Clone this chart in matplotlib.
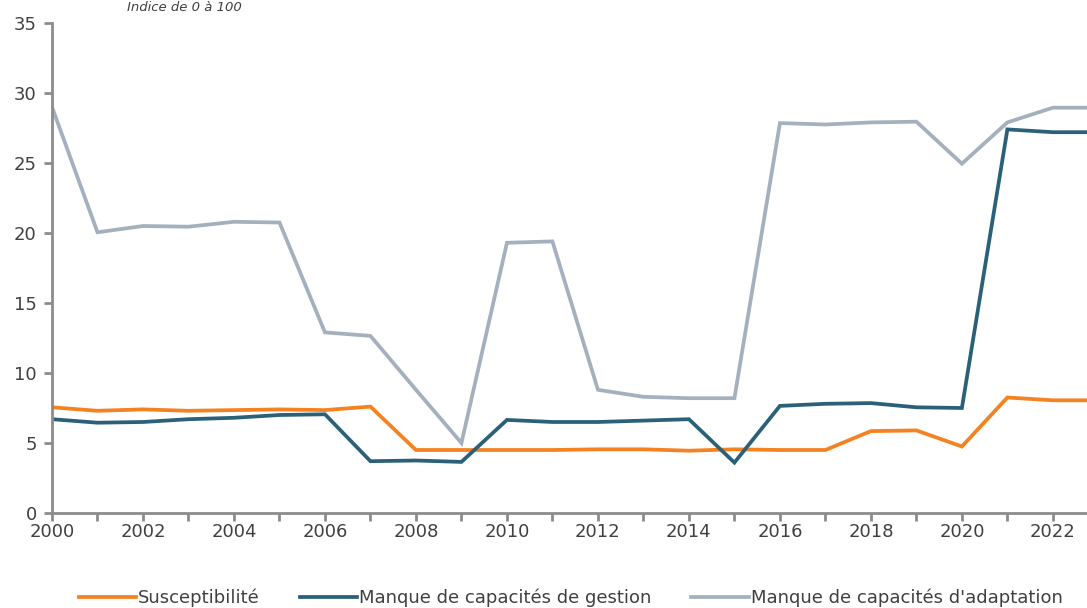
import numpy as np
import matplotlib
matplotlib.use("Agg")
import matplotlib.pyplot as plt
from matplotlib.ticker import MultipleLocator

plt.rcParams["font.family"] = ["DejaVu Sans"]

YEARS = list(range(2000, 2024))
SUSCEPT = [7.55, 7.3, 7.4, 7.3, 7.35, 7.4, 7.35, 7.6, 4.5, 4.5, 4.5, 4.5,
           4.55, 4.55, 4.45, 4.55, 4.5, 4.5, 5.85, 5.9, 4.75, 8.25, 8.05, 8.05]
GESTION = [6.7, 6.45, 6.5, 6.7, 6.8, 7.0, 7.05, 3.7, 3.75, 3.65, 6.65, 6.5,
           6.5, 6.6, 6.7, 3.6, 7.65, 7.8, 7.85, 7.55, 7.5, 27.4, 27.2, 27.2]
ADAPT = [29.0, 20.05, 20.5, 20.45, 20.8, 20.75, 12.9, 12.65, 8.8, 5.0, 19.3, 19.4,
         8.8, 8.3, 8.2, 8.2, 27.85, 27.75, 27.9, 27.95, 24.95, 27.9, 28.95, 28.95]
LABELS = ["Susceptibilité", "Manque de capacités de gestion",
          "Manque de capacités d'adaptation"]
COLORS = ["#F58220", "#2A6179", "#A5B0BE"]

TXT = "#404040"
AX_C = "#8C8C8C"

fig = plt.figure(figsize=(10.87, 6.08), dpi=100)
ax = fig.add_axes([52 / 1087, 95 / 608, 1035 / 1087, 490 / 608])

for vals, lab, col in zip([SUSCEPT, GESTION, ADAPT], LABELS, COLORS):
    ax.plot(YEARS, vals, color=col, lw=2.7, label=lab, solid_joinstyle="miter")

ax.set_xlim(2000, 2022.75)
ax.set_ylim(0, 35)
ax.xaxis.set_major_locator(MultipleLocator(2))
ax.xaxis.set_minor_locator(MultipleLocator(1))
ax.yaxis.set_major_locator(MultipleLocator(5))

for s in ["top", "right"]:
    ax.spines[s].set_visible(False)
for s in ["left", "bottom"]:
    ax.spines[s].set_color(AX_C)
    ax.spines[s].set_linewidth(2)

ax.tick_params(axis="both", which="both", direction="out", color=AX_C, width=2,
               labelsize=13, labelcolor=TXT)
ax.tick_params(axis="x", which="both", length=6, pad=1.5)
ax.tick_params(axis="y", length=6, pad=5)

fig.text(0.17, 0.998, "Indice de 0 à 100", style="italic", fontsize=9.5,
         color=TXT, ha="center", va="top")

fig.legend(loc="center", bbox_to_anchor=(0.525, 0.017), ncol=3, frameon=False,
           fontsize=13, labelcolor=TXT, handlelength=3.2, handletextpad=0.1,
           columnspacing=2.2)

fig.savefig("out.png", dpi=100)
